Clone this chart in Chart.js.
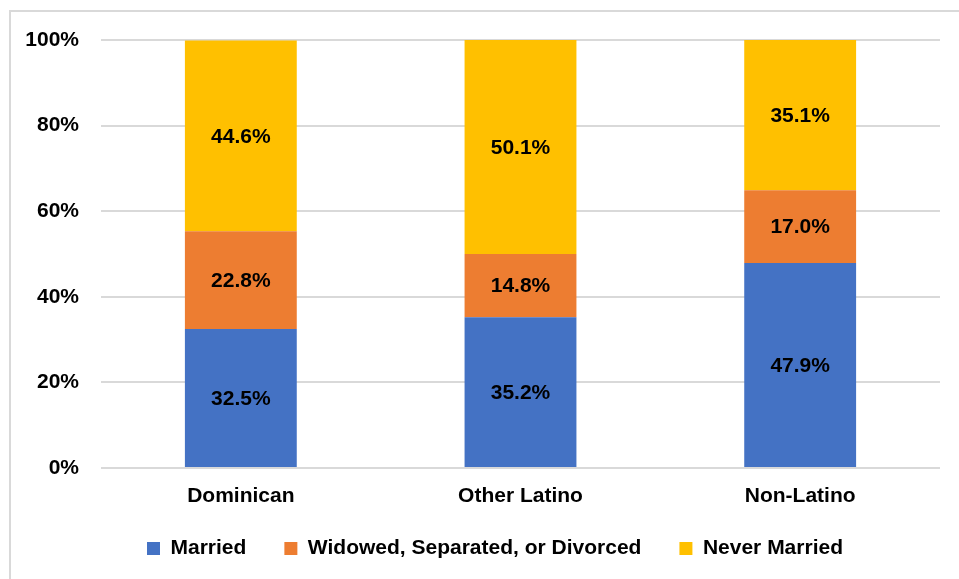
<!DOCTYPE html>
<html>
<head>
<meta charset="utf-8">
<script src="https://cdn.jsdelivr.net/npm/chart.js"></script>
<style>
  html, body { margin: 0; padding: 0; background: #fff; }
  #frame { position: absolute; left: 9px; top: 10px; width: 980px; height: 600px;
           border-left: 2px solid #d9d9d9; border-top: 2px solid #d9d9d9; }
  #wrap { position: absolute; left: 0; top: 0; width: 959px; height: 579px; }
</style>
</head>
<body>
<div id="frame"></div>
<div id="wrap"><canvas id="barChart"></canvas></div>
<script>
// categories and series (percent of group)
const groups = ['Dominican', 'Other Latino', 'Non-Latino'];
const married = [32.5, 35.2, 47.9];
const widowed = [22.8, 14.8, 17.0];
const neverMarried = [44.6, 50.1, 35.1];
const yTicks = [0, 20, 40, 60, 80, 100];

const FONT = "'Liberation Sans', Arial, sans-serif";

// draws the value in the middle of each bar segment
const segmentLabels = {
  id: 'segmentLabels',
  afterDatasetsDraw(chart) {
    const ctx = chart.ctx;
    ctx.save();
    ctx.font = 'bold 21px ' + FONT;
    ctx.fillStyle = '#000';
    ctx.textAlign = 'center';
    ctx.textBaseline = 'middle';
    chart.data.datasets.forEach((ds, i) => {
      chart.getDatasetMeta(i).data.forEach((bar, j) => {
        const p = bar.getProps(['x', 'y', 'base'], true);
        ctx.fillText(ds.data[j].toFixed(1) + '%', p.x, (p.y + p.base) / 2 + 1);
      });
    });
    ctx.restore();
  }
};

// legend in the original sits a little right of the plot centre and closer to the axis
const nudgeLegend = {
  id: 'nudgeLegend',
  afterLayout(chart) {
    const lg = chart.legend;
    lg.left += 25;
    lg.right += 25;
    lg.top -= 10;
    lg.bottom -= 10;
  }
};

new Chart(document.getElementById('barChart').getContext('2d'), {
  type: 'bar',
  data: {
    labels: groups,
    datasets: [
      { label: 'Married', data: married, backgroundColor: '#4472C4' },
      { label: 'Widowed, Separated, or Divorced', data: widowed, backgroundColor: '#ED7D31' },
      { label: 'Never Married', data: neverMarried, backgroundColor: '#FFC000' }
    ]
  },
  options: {
    responsive: true,
    maintainAspectRatio: false,
    animation: false,
    layout: { padding: { top: 40, right: 19, left: 0, bottom: 0 } },
    datasets: { bar: { categoryPercentage: 1, barPercentage: 0.4 } },
    plugins: {
      tooltip: { enabled: false },
      legend: {
        position: 'bottom',
        labels: {
          color: '#000',
          font: { family: FONT, size: 21, weight: 'bold' },
          boxWidth: 13,
          boxHeight: 13,
          padding: 38
        }
      }
    },
    scales: {
      x: {
        stacked: true,
        afterFit(scale) { scale.height = 42; },
        grid: { display: false, drawTicks: false },
        border: { display: false },
        ticks: { color: '#000', padding: 16, font: { family: FONT, size: 21, weight: 'bold' } }
      },
      y: {
        stacked: true,
        min: 0,
        max: 100,
        afterFit(scale) { scale.width = 101; },
        afterBuildTicks(scale) { scale.ticks = yTicks.map(v => ({ value: v })); },
        grid: { color: '#d9d9d9', lineWidth: 2, drawTicks: false },
        border: { display: false },
        ticks: {
          color: '#000',
          padding: 22,
          font: { family: FONT, size: 21, weight: 'bold' },
          callback: v => v + '%'
        }
      }
    }
  },
  plugins: [segmentLabels, nudgeLegend]
});
</script>
</body>
</html>
